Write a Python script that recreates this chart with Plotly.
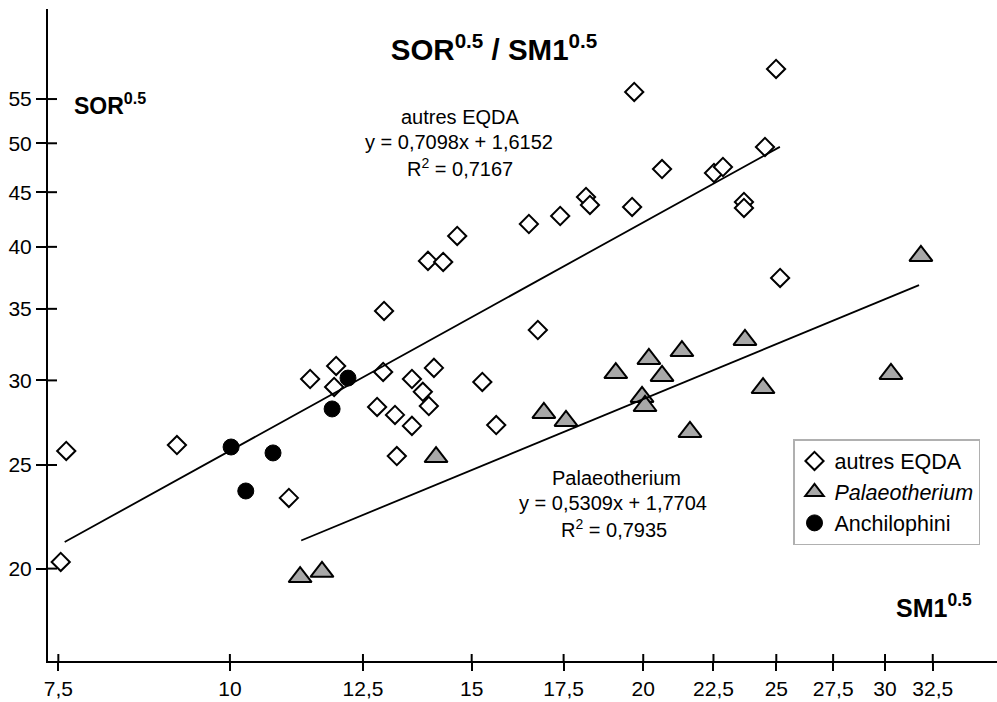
import numpy as np
import plotly.graph_objects as go

# ---- data (SM1^0.5 on x, SOR^0.5 on y) ----
eqda_x = [7.60, 7.53, 9.15, 11.04, 11.44, 11.95, 11.91, 12.93, 12.95, 12.80, 13.19, 13.23,
          13.57, 13.57, 13.82, 13.96, 14.08, 13.94, 14.30, 14.64, 15.27, 15.63, 16.51, 16.76,
          17.40, 18.17, 18.29, 19.63, 19.70, 20.64, 22.52, 22.86, 23.68, 23.68, 24.53, 24.99, 25.16]
eqda_y = [25.77, 20.29, 26.10, 23.29, 30.09, 30.95, 29.58, 30.55, 34.84, 28.33, 27.85, 25.49,
          30.09, 27.20, 29.27, 28.39, 30.82, 38.81, 38.72, 40.95, 29.90, 27.25, 42.02, 33.44,
          42.75, 44.54, 43.78, 43.59, 55.85, 47.30, 46.90, 47.51, 44.06, 43.50, 49.60, 58.68, 37.41]

pal_x = [31.86, 23.72, 21.34, 20.19, 20.64, 19.10, 19.96, 20.06, 24.45, 30.30, 16.93, 17.57,
         21.63, 14.13, 11.25, 11.67]
pal_y = [39.23, 32.73, 31.96, 31.42, 30.29, 30.48, 28.95, 28.39, 29.51, 30.42, 27.97, 27.49,
         26.85, 25.43, 19.64, 19.86]

anch_x = [10.02, 10.75, 10.27, 11.87, 12.19]
anch_y = [25.99, 25.66, 23.64, 28.21, 30.15]

# regression (power law, straight on log-log): ln y = a ln x + b
eqda_a, eqda_b = 0.7098, 1.6152
pal_a, pal_b = 0.5309, 1.7704
eqda_fit_x = [7.58, 25.15]
pal_fit_x = [11.27, 31.76]

x_tickvals = [7.5, 10, 12.5, 15, 17.5, 20, 22.5, 25, 27.5, 30, 32.5]
x_ticktext = ["7,5", "10", "12,5", "15", "17,5", "20", "22,5", "25", "27,5", "30", "32,5"]
y_tickvals = [20, 25, 30, 35, 40, 45, 50, 55]
y_ticktext = ["20", "25", "30", "35", "40", "45", "50", "55"]

FONT = "Liberation Sans, Arial, sans-serif"
W, H = 997, 702
L, R, T, B = 48, 0, 9, 41
PW, PH = W - L - R, H - T - B


def px_x(p):
    return (p - L) / PW


def px_y(p):
    return (H - B - p) / PH


x_range = [0.86753, 1.55867]
y_range = [1.21458, 1.82461]

fig = go.Figure()

fig.add_trace(go.Scatter(
    x=eqda_x, y=eqda_y, mode="markers", name="autres EQDA", legendgroup="a",
    marker=dict(symbol="diamond", size=14, color="white", line=dict(color="black", width=2))))
fig.add_trace(go.Scatter(
    x=pal_x, y=pal_y, mode="markers", name="<i>Palaeotherium</i>", legendgroup="b",
    marker=dict(symbol="triangle-up", size=20, color="#a8a8a8", line=dict(color="black", width=2))))
fig.add_trace(go.Scatter(
    x=anch_x, y=anch_y, mode="markers", name="Anchilophini", legendgroup="c",
    marker=dict(symbol="circle", size=16, color="black", line=dict(color="black", width=1))))

eqda_fit_y = [float(np.exp(eqda_b) * x ** eqda_a) for x in eqda_fit_x]
pal_fit_y = [float(np.exp(pal_b) * x ** pal_a) for x in pal_fit_x]
fig.add_trace(go.Scatter(x=eqda_fit_x, y=eqda_fit_y, mode="lines", showlegend=False,
                         line=dict(color="black", width=1.8), hoverinfo="skip"))
fig.add_trace(go.Scatter(x=pal_fit_x, y=pal_fit_y, mode="lines", showlegend=False,
                         line=dict(color="black", width=1.8), hoverinfo="skip"))

tickfont = dict(family=FONT, size=21, color="black")
fig.update_layout(
    width=W, height=H,
    margin=dict(l=L, r=R, t=T, b=B, autoexpand=False),
    plot_bgcolor="white", paper_bgcolor="white",
    font=dict(family=FONT, color="black"),
    title=dict(text="<b>SOR<sup>0.5</sup> / SM1<sup>0.5</sup></b>",
               x=494 / W, xanchor="center", y=1 - 50 / H, yanchor="middle",
               font=dict(family=FONT, size=29.5, color="black"), automargin=False),
    xaxis=dict(type="log", range=x_range, tickmode="array", tickvals=x_tickvals,
               ticktext=x_ticktext, ticks="outside", ticklen=8, tickwidth=2, tickcolor="black",
               showline=True, linecolor="black", linewidth=2, showgrid=False, zeroline=False,
               tickfont=tickfont, automargin=False),
    yaxis=dict(type="log", range=y_range, tickmode="array", tickvals=y_tickvals,
               ticktext=y_ticktext, ticks="outside", ticklen=10, tickwidth=2, tickcolor="black",
               showline=True, linecolor="black", linewidth=2, showgrid=False, zeroline=False,
               tickfont=tickfont, automargin=False),
    legend=dict(x=px_x(793), y=px_y(439), xanchor="left", yanchor="top",
                bgcolor="white", bordercolor="#b0b0b0", borderwidth=1.5,
                font=dict(family=FONT, size=21.5, color="black"),
                tracegroupgap=16, traceorder="normal"),
    showlegend=True,
)

# inner halves of the crossing tick marks
for v in x_tickvals:
    fig.add_shape(type="line", xref="x", yref="paper", x0=v, x1=v, ysizemode="pixel",
                  yanchor=0, y0=0, y1=7, line=dict(color="black", width=2))
for v in y_tickvals:
    fig.add_shape(type="line", yref="y", xref="paper", y0=v, y1=v, xsizemode="pixel",
                  xanchor=0, x0=0, x1=9, line=dict(color="black", width=2))

ann_font = dict(family=FONT, size=20, color="black")
annotations = [
    dict(text="autres EQDA", x=px_x(460), y=px_y(117)),
    dict(text="y = 0,7098x + 1,6152", x=px_x(459), y=px_y(142)),
    dict(text="R<sup>2</sup> = 0,7167", x=px_x(460), y=px_y(167)),
    dict(text="Palaeotherium", x=px_x(616), y=px_y(478)),
    dict(text="y = 0,5309x + 1,7704", x=px_x(613), y=px_y(503)),
    dict(text="R<sup>2</sup> = 0,7935", x=px_x(614), y=px_y(528)),
]
for a in annotations:
    fig.add_annotation(xref="paper", yref="paper", showarrow=False, xanchor="center",
                       yanchor="middle", font=ann_font, **a)

fig.add_annotation(text="<b>SOR<sup>0.5</sup></b>", xref="paper", yref="paper",
                   x=px_x(72), y=px_y(104), xanchor="left", yanchor="middle",
                   showarrow=False, font=dict(family=FONT, size=23, color="black"))
fig.add_annotation(text="<b>SM1<sup>0.5</sup></b>", xref="paper", yref="paper",
                   x=px_x(974), y=px_y(606), xanchor="right", yanchor="middle",
                   showarrow=False, font=dict(family=FONT, size=25, color="black"))

# remove the browser's default page margin so the figure sits at the window's corner
fig.write_html("out.html", config={"displayModeBar": False},
               post_script="document.body.style.margin='0';")
